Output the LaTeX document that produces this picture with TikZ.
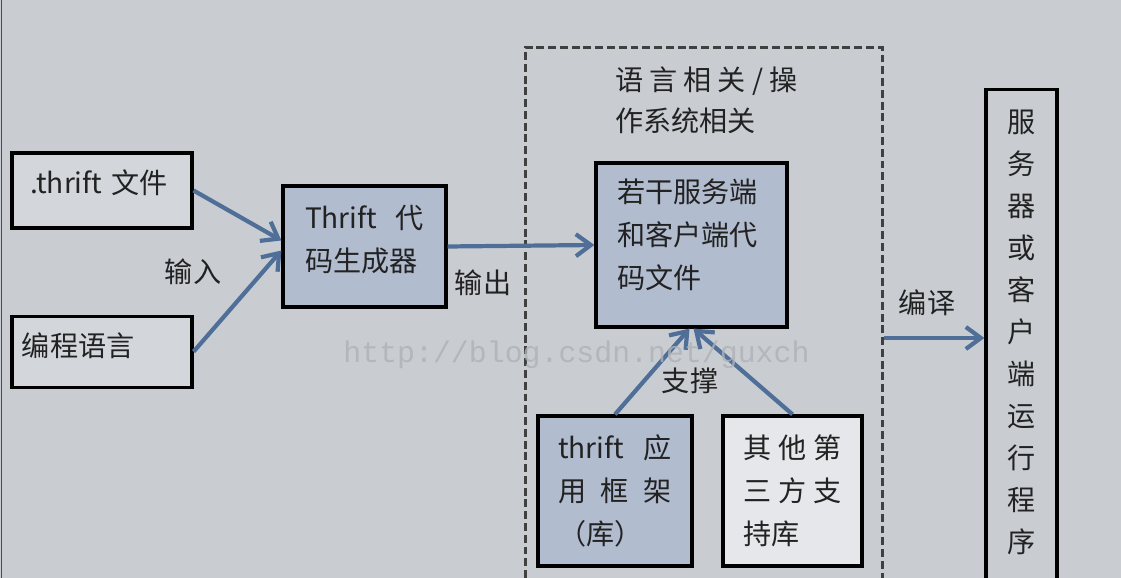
\documentclass[tikz,border=0pt]{standalone}
\usepackage{fontspec}
\setmainfont{Noto Sans CJK SC}
\newfontfamily\wmfont{Liberation Mono}
\usetikzlibrary{positioning, arrows.meta, calc}
\definecolor{bggray}{HTML}{C9CDD2}
\definecolor{boxgray}{HTML}{D3D7DC}
\definecolor{codeblue}{HTML}{B2BCCF}
\definecolor{arrowblue}{HTML}{4F6F99}
\definecolor{inkgray}{HTML}{222222}
\definecolor{wmgray}{HTML}{AEB2B7}
\newcommand\cnfont{\fontsize{16}{24.5}\selectfont}
% deepens the last line so the text sits higher in its box
\newcommand\lift[1]{\rule[-#1]{0pt}{0pt}}

\begin{document}
\begin{tikzpicture}[
    box/.style={rectangle, draw=black, line width=1.8pt, fill=boxgray, align=left, font=\cnfont, text=inkgray},
    code/.style={box, fill=codeblue},
    group/.style={rectangle, draw=black!75, line width=1.6pt, dash pattern=on 4.5pt off 2.2pt},
    tag/.style={font=\cnfont, text=inkgray, inner sep=0pt},
    arrow/.style={draw=arrowblue, line width=2.4pt, -{Straight Barb[length=0.3cm,width=0.44cm]}}
]

% Background and page edge
\useasboundingbox (0,0) rectangle (22.42,-11.56);
\fill[bggray] (0,0) rectangle (22.42,-11.56);
\draw[line width=1pt, black!70] (0.03,0) -- (0.03,-11.56);

% Inputs
\node[box, minimum width=3.6cm, minimum height=1.5cm, text width=2.88cm] (thriftfile) at (2.04,-3.81) {.thrift 文件\lift{0.35cm}};
\node[box, minimum width=3.6cm, minimum height=1.42cm, text width=3.2cm, below=1.7cm of thriftfile] (language) {编程语言\lift{0.29cm}};

% Generator
\node[code, minimum width=3.26cm, minimum height=2.42cm, text width=2.38cm] (generator) at (7.29,-4.93) {Thrift\hfill 代\\码生成器\lift{0.31cm}};

% Language / OS dependent group
\node[group, minimum width=7.14cm, minimum height=12cm, anchor=north west] (langgroup) at (10.48,-0.92) {};
\node[tag, align=left, text width=3.64cm, anchor=west, font=\fontsize{16}{23.3}\selectfont] (grouptitle) at (12.3,-2.01) {语\hfill 言\hfill 相\hfill 关\hfill /\hfill 操\\作系统相关};
\node[code, minimum width=3.82cm, minimum height=3.28cm, text width=2.98cm] (codefiles) at (13.83,-4.9) {若干服务端\\和客户端代\\码文件\lift{0.45cm}};
\node[code, minimum width=3.08cm, minimum height=3cm, text width=2.28cm] (framework) at (12.3,-9.82) {thrift\hfill 应\\用\hfill 框\hfill 架\\（库）};
\node[box, fill=boxgray!60!white, minimum width=2.78cm, minimum height=3cm, text width=1.98cm] (thirdparty) at (15.85,-9.82) {其\hfill 他\hfill 第\\三\hfill 方\hfill 支\\持库};

% Runtime
\node[box, fill=bggray, minimum width=1.42cm, minimum height=10cm, align=center, anchor=north, font=\fontsize{16}{23.9}\selectfont] (runtime) at (20.43,-1.76) {服\\务\\器\\或\\客\\户\\端\\运\\行\\程\\序\lift{0.35cm}};

% Arrows
\draw[arrow] (thriftfile.east) -- ([yshift=0.12cm]generator.west);
\draw[arrow] (language.east) -- ([yshift=-0.08cm]generator.west);
\draw[arrow] (generator.east) -- (codefiles.west);
\draw[arrow] (framework.north) -- ([xshift=-0.04cm]codefiles.south);
\draw[arrow] (thirdparty.north) -- ([xshift=0.04cm]codefiles.south);
\coordinate (compileout) at ($(langgroup.north east)+(0,-5.84)$);
\draw[arrow] (compileout) -- (compileout -| runtime.west);

% Arrow labels
\node[tag] (inputtag) at (3.86,-5.44) {输入};
\node[tag] (outputtag) at (9.66,-5.66) {输出};
\node[tag] (supporttag) at (13.8,-7.62) {支撑};
\node[tag] (compiletag) at (18.54,-6.06) {编译};

% Watermark
\node[text=wmgray, opacity=0.8, font=\wmfont\fontsize{17}{20}\selectfont] (watermark) at (11.53,-7.1) {http://blog.csdn.net/guxch};

\end{tikzpicture}
\end{document}
